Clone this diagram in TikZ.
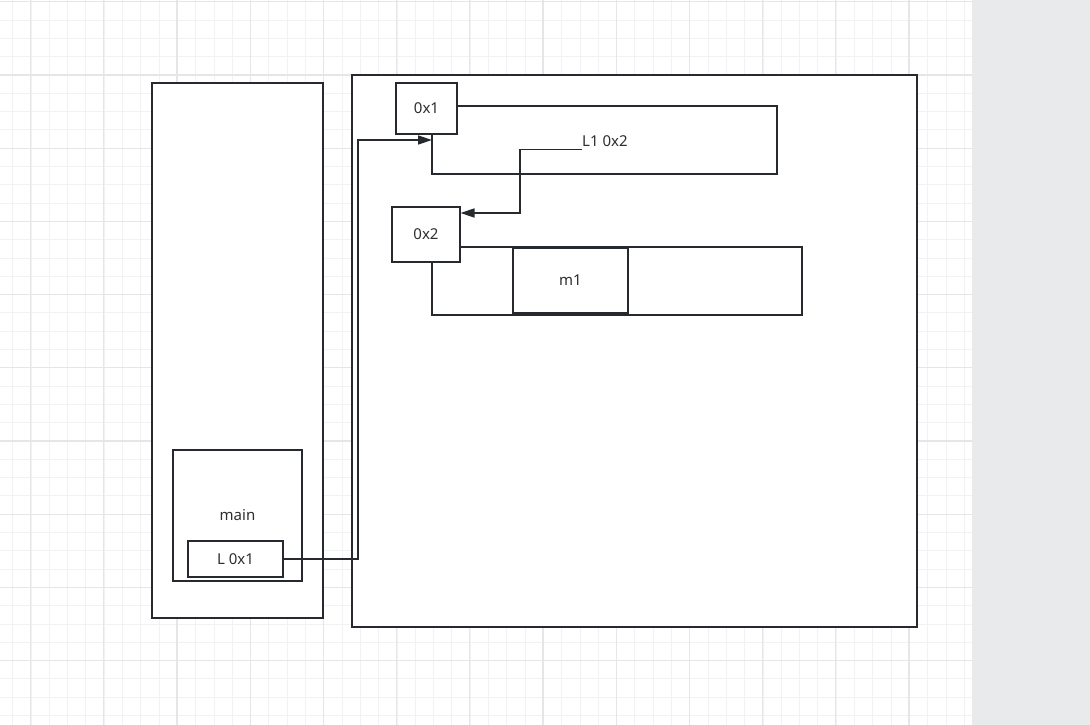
\documentclass[tikz,border=0pt]{standalone}
\usepackage{fontspec}
\setmainfont{Noto Sans}
\usetikzlibrary{arrows.meta,positioning}
\definecolor{linegray}{HTML}{262A2E}
\definecolor{darktext}{HTML}{2E2E2E}
\definecolor{gridminor}{HTML}{F2F2F2}
\definecolor{gridmajor}{HTML}{E6E6E6}
\definecolor{panelgray}{HTML}{E9EAEC}
\tikzset{
  frame/.style={draw=linegray, fill=white, line width=1.5pt, inner sep=0pt, outer sep=0pt, anchor=north west, text=darktext, font=\fontsize{15}{18}\selectfont},
  link/.style={draw=linegray, line width=1.5pt, -{Triangle[length=14pt,width=9pt]}},
}

\begin{document}
\begin{tikzpicture}[x=1pt,y=-1pt]
\useasboundingbox (0,0) rectangle (1090,725);
% Grid
\begin{scope}
\clip (0,0) rectangle (972,725);
\fill[white] (0,0) rectangle (972,725);
\foreach \i in {0,...,52} \draw[gridminor, line width=1pt] ({12.7+18.3*\i},0) -- ++(0,725);
\foreach \i in {0,...,39} \draw[gridminor, line width=1pt] (0,{1.8+18.3*\i}) -- ++(972,0);
\foreach \i in {0,...,12} \draw[gridmajor, line width=1.3pt] ({30.6+73.2*\i},0) -- ++(0,725);
\foreach \i in {0,...,9} \draw[gridmajor, line width=1.3pt] (0,{1.8+73.2*\i}) -- ++(972,0);
\end{scope}
% Side panel
\fill[panelgray] (972,0) rectangle (1090,725);

% Stack
\node[frame, minimum width=171pt, minimum height=535pt] (stack) at (152,83) {};
\node[frame, minimum width=129pt, minimum height=131pt] (main) at (173,450) {main};
\node[frame, minimum width=95pt, minimum height=36pt] (ref1) at (188,541) {L 0x1};

% Heap
\node[frame, minimum width=565pt, minimum height=552pt] (heap) at (352,75) {};

% Object 0x1
\node[frame, minimum width=345pt, minimum height=68pt] (obj1) at (432,106) {};
\node[frame, minimum width=61pt, minimum height=51pt] (addr1) at (396,83) {0x1};
\node[anchor=south west, inner xsep=0pt, inner ysep=2.5pt, text=darktext, font=\fontsize{15}{18}\selectfont] (field1) at (582,149.5) {L1 0x2};

% Object 0x2
\node[frame, minimum width=370pt, minimum height=68pt] (obj2) at (432,247) {};
\node[frame, minimum width=68pt, minimum height=55pt] (addr2) at (392,207) {0x2};
\node[frame, minimum width=115pt, minimum height=65pt] (m1) at (513,248) {m1};

% References
\coordinate (bend1) at (358,140);
\coordinate (tip1) at (432,140);
\draw[link] (ref1.east) -| (bend1) -- (tip1);
\coordinate (bend2) at (520,213);
\coordinate (tip2) at (460.5,213);
\draw[link] (field1.south west) -| (bend2) -- (tip2);
\end{tikzpicture}
\end{document}
